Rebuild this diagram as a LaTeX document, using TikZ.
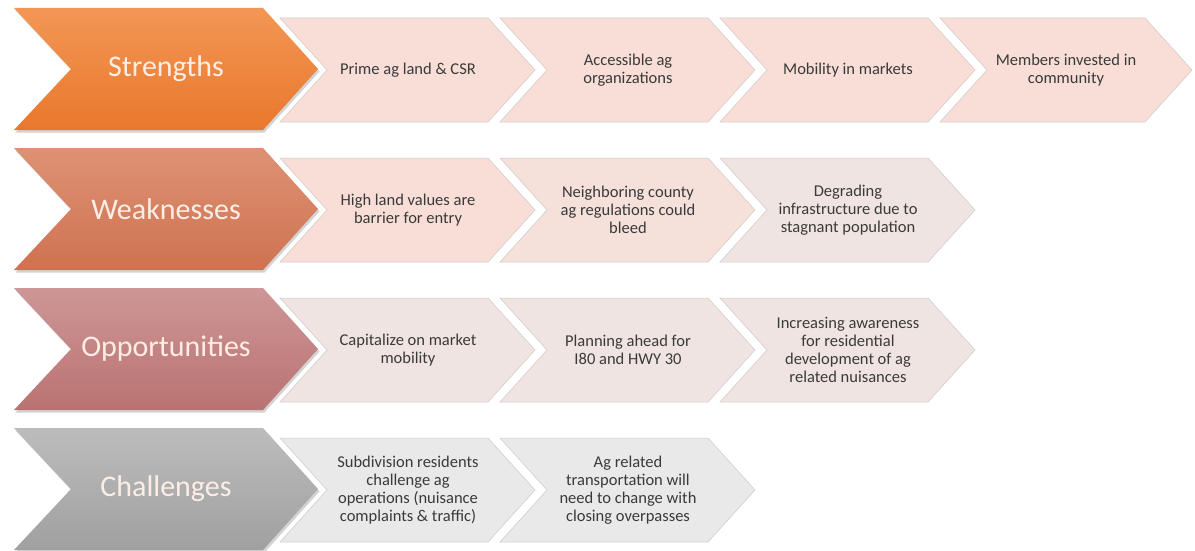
\documentclass[tikz,border=0pt]{standalone}
\usepackage{fontspec}
\setmainfont{Carlito}
\usetikzlibrary{shadows}
\definecolor{strtop}{RGB}{243,150,85}
\definecolor{strbot}{RGB}{233,120,44}
\definecolor{weaktop}{RGB}{221,146,116}
\definecolor{weakbot}{RGB}{207,114,80}
\definecolor{opptop}{RGB}{206,150,150}
\definecolor{oppbot}{RGB}{186,114,114}
\definecolor{chaltop}{RGB}{188,188,188}
\definecolor{chalbot}{RGB}{160,160,160}
\definecolor{cardS}{RGB}{248,222,214}
\definecolor{cardW}{RGB}{245,224,218}
\definecolor{cardO}{RGB}{240,228,226}
\definecolor{cardC}{RGB}{233,233,233}
\definecolor{cardedge}{RGB}{206,200,200}
\definecolor{headtext}{RGB}{252,238,230}
\definecolor{notetext}{RGB}{58,58,58}

\begin{document}
\begin{tikzpicture}[x=1pt,y=-1pt,
  head/.style={draw=none,drop shadow={opacity=0.35,shadow xshift=1.5pt,shadow yshift=-2.5pt}},
  card/.style={draw=cardedge,line width=0.5pt,line join=miter},
  headlabel/.style={text=headtext,font=\fontsize{30}{34}\selectfont},
  note/.style={text=notetext,align=center,font=\fontsize{16.5}{17.8}\selectfont}]
\useasboundingbox (0,0) rectangle (1195,551);

\draw[head,top color=strtop,bottom color=strbot] (14,8) -- ++(249,0) -- ++(55,61) -- ++(-55,61) -- ++(-249,0) -- ++(57,-61) -- cycle;
\node[headlabel] (str) at (166,69) {Strengths};
\draw[card,fill=cardS] (280,18) -- ++(208,0) -- ++(47,52) -- ++(-47,52) -- ++(-208,0) -- ++(47,-52) -- cycle;
\node[note] (s1) at (408,70) {Prime ag land \& CSR};
\draw[card,fill=cardS] (500,18) -- ++(208,0) -- ++(47,52) -- ++(-47,52) -- ++(-208,0) -- ++(47,-52) -- cycle;
\node[note] (s2) at (628,70) {Accessible ag\\organizations};
\draw[card,fill=cardS] (720,18) -- ++(208,0) -- ++(47,52) -- ++(-47,52) -- ++(-208,0) -- ++(47,-52) -- cycle;
\node[note] (s3) at (848,70) {Mobility in markets};
\draw[card,fill=cardS] (940,18) -- ++(205,0) -- ++(47,52) -- ++(-47,52) -- ++(-205,0) -- ++(47,-52) -- cycle;
\node[note] (s4) at (1066,70) {Members invested in\\community};

\draw[head,top color=weaktop,bottom color=weakbot] (14,148) -- ++(249,0) -- ++(55,61) -- ++(-55,61) -- ++(-249,0) -- ++(57,-61) -- cycle;
\node[headlabel] (weak) at (166,209) {Weaknesses};
\draw[card,fill=cardS] (280,158) -- ++(208,0) -- ++(47,52) -- ++(-47,52) -- ++(-208,0) -- ++(47,-52) -- cycle;
\node[note] (w1) at (408,210) {High land values are\\barrier for entry};
\draw[card,fill=cardW] (500,158) -- ++(208,0) -- ++(47,52) -- ++(-47,52) -- ++(-208,0) -- ++(47,-52) -- cycle;
\node[note] (w2) at (628,210) {Neighboring county\\ag regulations could\\bleed};
\draw[card,fill=cardO] (720,158) -- ++(208,0) -- ++(47,52) -- ++(-47,52) -- ++(-208,0) -- ++(47,-52) -- cycle;
\node[note] (w3) at (848,210) {Degrading\\infrastructure due to\\stagnant population};

\draw[head,top color=opptop,bottom color=oppbot] (14,288) -- ++(249,0) -- ++(55,61) -- ++(-55,61) -- ++(-249,0) -- ++(57,-61) -- cycle;
\node[headlabel] (opp) at (166,349) {Opportunities};
\draw[card,fill=cardO] (280,298) -- ++(208,0) -- ++(47,52) -- ++(-47,52) -- ++(-208,0) -- ++(47,-52) -- cycle;
\node[note] (o1) at (408,350) {Capitalize on market\\mobility};
\draw[card,fill=cardO] (500,298) -- ++(208,0) -- ++(47,52) -- ++(-47,52) -- ++(-208,0) -- ++(47,-52) -- cycle;
\node[note] (o2) at (628,350) {Planning ahead for\\I80 and HWY 30};
\draw[card,fill=cardO] (720,298) -- ++(208,0) -- ++(47,52) -- ++(-47,52) -- ++(-208,0) -- ++(47,-52) -- cycle;
\node[note] (o3) at (848,350) {Increasing awareness\\for residential\\development of ag\\related nuisances};

\draw[head,top color=chaltop,bottom color=chalbot] (14,428) -- ++(249,0) -- ++(55,61) -- ++(-55,61) -- ++(-249,0) -- ++(57,-61) -- cycle;
\node[headlabel] (chal) at (166,489) {Challenges};
\draw[card,fill=cardC] (280,438) -- ++(208,0) -- ++(47,52) -- ++(-47,52) -- ++(-208,0) -- ++(47,-52) -- cycle;
\node[note] (c1) at (408,490) {Subdivision residents\\challenge ag\\operations (nuisance\\complaints \& traffic)};
\draw[card,fill=cardC] (500,438) -- ++(208,0) -- ++(47,52) -- ++(-47,52) -- ++(-208,0) -- ++(47,-52) -- cycle;
\node[note] (c2) at (628,490) {Ag related\\transportation will\\need to change with\\closing overpasses};
\end{tikzpicture}
\end{document}
